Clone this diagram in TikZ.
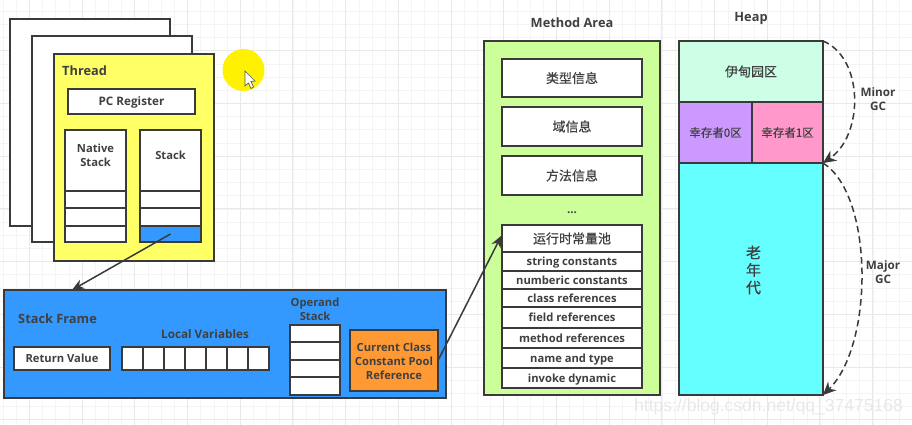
\documentclass[tikz,border=0pt]{standalone}
\usepackage{fontspec}
\setmainfont{Open Sans}
\newfontfamily\cjk[FakeBold=0.6]{Noto Sans CJK SC}
\usetikzlibrary{arrows.meta,calc}
\definecolor{ink}{HTML}{3A3A3A}
\definecolor{txt}{HTML}{404040}
\definecolor{gridc}{HTML}{F4F4F4}
\definecolor{gridm}{HTML}{E9E9E9}
\definecolor{cthread}{HTML}{FFFF66}
\definecolor{cblue}{HTML}{3399FF}
\definecolor{corange}{HTML}{FF9933}
\definecolor{cgreen}{HTML}{CCFF99}
\definecolor{cmint}{HTML}{CCFFE6}
\definecolor{cpurple}{HTML}{CC99FF}
\definecolor{cpink}{HTML}{FF99CC}
\definecolor{ccyan}{HTML}{66FFFF}
\tikzset{
  x=1pt,y=-1pt,
  box/.style={draw=ink,line width=1.3pt,fill=white,inner sep=0pt,outer sep=0pt,align=center,text=txt},
  lab/.style={font=\bfseries\fontsize{11.5}{14}\selectfont,text=txt,align=center,inner sep=0pt},
  ttl/.style={font=\bfseries\fontsize{12.8}{15}\selectfont},
  sm/.style={font=\bfseries\fontsize{11.2}{14}\selectfont},
  mid/.style={font=\bfseries\fontsize{11.7}{14}\selectfont},
  rowt/.style={text height=10.5pt,text depth=2pt},
  cj/.style={font=\cjk\fontsize{13}{15}\selectfont},
  cjs/.style={font=\cjk\fontsize{11.5}{13}\selectfont},
  conn/.style={draw=ink,line width=1.5pt,-{Stealth[length=12pt,width=10pt]}},
  gc/.style={draw=ink,line width=1.5pt,dash pattern=on 6.5pt off 4pt,-{Stealth[length=13pt,width=12pt]}}
}
\newcommand{\bx}[6][]{\node[box,minimum width={(#4-#2)*1pt},minimum height={(#5-#3)*1pt},#1] (#6) at ({(#2+#4)/2},{(#3+#5)/2})}
\begin{document}
\begin{tikzpicture}
\useasboundingbox (0,0) rectangle (912,425);
\fill[white] (0,0) rectangle (912,425);
% grid
\foreach \i in {0,...,69} {\draw[gridc,line width=.7pt] ({3+13.18*\i},0) -- ({3+13.18*\i},425);}
\foreach \i in {0,...,32} {\draw[gridc,line width=.7pt] (0,{-2+13.18*\i}) -- (912,{-2+13.18*\i});}
\foreach \i in {0,...,17} {\draw[gridm,line width=.8pt] ({29.3+52.7*\i},0) -- ({29.3+52.7*\i},425);}
\foreach \i in {0,...,7} {\draw[gridm,line width=.8pt] (0,{50.7+52.7*\i}) -- (912,{50.7+52.7*\i});}
% highlighted pointer
\fill[yellow] (243.5,70) circle (21);
\filldraw[fill=white,draw=gray!70!black,line width=.7pt] (245,71) -- (245,86) -- (248.5,83) -- (251,88.5) -- (253.5,87) -- (251,81.5) -- (255,81) -- cycle;
% threads
\bx{10}{19}{170}{226}{backA} {};
\bx{32}{36}{192}{242}{backB} {};
\bx[fill=cthread]{54}{54}{214}{261}{thread} {};
\node[lab,anchor=west,ttl] (threadT) at (62,71) {Thread};
\bx[mid,rowt]{68}{89}{195}{114}{pc} {PC Register};
\bx{65}{130}{126}{191}{nat} {};
\node[lab,sm] (natT) at (95.5,155) {Native\\Stack};
\bx{65}{191}{126}{208}{natA} {};
\bx{65}{208}{126}{226}{natB} {};
\bx{65}{226}{126}{242}{natC} {};
\bx{140}{130}{201}{191}{stk} {};
\node[lab,sm] (stkT) at (170.5,155) {Stack};
\bx{140}{191}{201}{208}{stkA} {};
\bx{140}{208}{201}{226}{stkB} {};
\bx[fill=cblue]{140}{226}{201}{242}{stkC} {};
% stack frame
\bx[fill=cblue]{4}{290}{446}{398}{frame} {};
\node[lab,anchor=west,ttl] (frameT) at (18,319) {Stack Frame};
\node[lab,mid] (lvT) at (205,334) {Local Variables};
\bx[sm]{14}{347}{110}{370}{ret} {Return Value};
\foreach \i in {0,...,6} {
  \node[box,minimum width=21pt,minimum height=23pt] (lv\i) at ({132.5+21*\i},358.5) {};
}
\node[lab,sm] (opT) at (315,309) {Operand\\Stack};
\bx{290}{325}{340}{342}{opA} {};
\bx{290}{342}{340}{360}{opB} {};
\bx{290}{360}{340}{377}{opC} {};
\bx{290}{377}{340}{395}{opD} {};
\bx[fill=corange]{350}{330}{438}{391}{cur} {};
\node[lab,sm] (curT) at (394,361.5) {Current Class\\Constant Pool\\Reference};
% method area
\node[lab,ttl] (maT) at (572,23) {Method Area};
\bx[fill=cgreen]{484}{41}{660}{395}{ma} {};
\bx[cj]{502}{59}{642}{97}{mA} {类型信息};
\bx[cj]{502}{107}{642}{146}{mB} {域信息};
\bx[cj]{502}{156}{642}{195}{mC} {方法信息};
\node[lab,mid] (dots) at (572,213) {...};
\bx[cj]{502}{225}{642}{252}{pool} {运行时常量池};
\bx[sm,rowt]{502}{252}{642}{271}{pA} {string constants};
\bx[sm,rowt]{502}{271}{642}{289}{pB} {numberic constants};
\bx[sm,rowt]{502}{289}{642}{307}{pC} {class references};
\bx[sm,rowt]{502}{307}{642}{328}{pD} {field references};
\bx[sm,rowt]{502}{328}{642}{348}{pE} {method references};
\bx[sm,rowt]{502}{348}{642}{368}{pF} {name and type};
\bx[sm,rowt]{502}{368}{642}{388}{pG} {invoke dynamic};
% heap
\node[lab,ttl] (heapT) at (751,18) {Heap};
\bx[fill=cmint,cj]{679}{41}{823}{102}{eden} {伊甸园区};
\bx[fill=cpurple,cjs]{679}{102}{752}{163}{sZero} {幸存者0区};
\bx[fill=cpink,cjs]{752}{102}{823}{163}{sOne} {幸存者1区};
\bx[fill=ccyan]{679}{163}{823}{395}{old} {};
\node[lab,font=\cjk\fontsize{15}{17.5}\selectfont] (oldT) at (753.5,270) {老\\年\\代};
% connectors
\coordinate (frameIn) at (72,290);
\coordinate (poolIn) at (501.5,235.5);
\draw[conn] (stkC.center) -- (frameIn);
\draw[conn] (cur.east) -- (poolIn);
\draw[gc] (eden.north east) .. controls (864,58) and (864,135) .. (old.north east);
\draw[gc] (old.north east) .. controls (874,195) and (874,345) .. (old.south east);
\node[lab,mid] (minor) at (878,99) {Minor\\GC};
\node[lab,mid] (major) at (883,272) {Major\\GC};
% watermark
\node[inner sep=0pt,anchor=east,font=\fontspec{Liberation Sans}\fontsize{17.5}{20}\selectfont,text=gray!22,opacity=.8] (wm) at (903,407) {https://blog.csdn.net/qq\_37475168};
\end{tikzpicture}
\end{document}
